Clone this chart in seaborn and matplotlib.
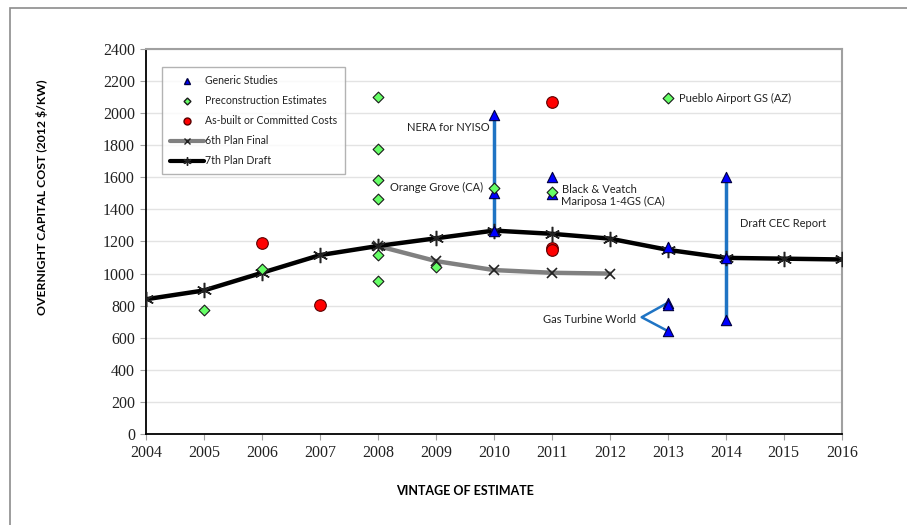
import pandas as pd
import matplotlib
matplotlib.use("Agg")
import matplotlib.pyplot as plt
import seaborn as sns
from matplotlib.lines import Line2D
from matplotlib.patches import Rectangle

# --- data ---
plan7_years = [2004, 2005, 2006, 2007, 2008, 2009, 2010, 2011, 2012, 2013, 2014, 2015, 2016]
plan7_cost = [840, 895, 1005, 1115, 1172, 1220, 1268, 1248, 1218, 1148, 1098, 1093, 1088]

plan6_years = [2008, 2009, 2010, 2011, 2012]
plan6_cost = [1172, 1078, 1022, 1005, 1000]

generic_years = [2010, 2010, 2010, 2011, 2011, 2013, 2013, 2013, 2013, 2014, 2014, 2014]
generic_cost = [1990, 1502, 1265, 1600, 1496, 1165, 818, 804, 642, 1600, 712, 1100]

precon_years = [2005, 2006, 2008, 2008, 2008, 2008, 2008, 2008, 2009, 2010, 2011, 2013]
precon_cost = [773, 1030, 2100, 1777, 1584, 1465, 1115, 954, 1041, 1534, 1510, 2095]

asbuilt_years = [2006, 2007, 2011, 2011, 2011]
asbuilt_cost = [1191, 804, 2070, 1160, 1147]

# range bars (blue vertical lines)
range_years = [2010, 2014]
range_low = [1265, 712]
range_high = [1990, 1600]

sns.set_theme(style="white")
plt.rcParams['font.family'] = ['Lato', 'DejaVu Sans']

fig = plt.figure(figsize=(9.07, 5.25), dpi=100)
ax = fig.add_axes([0.161, 0.1733, 0.767, 0.7334])

blue_line = '#1f74c4'

# range lines
ax.vlines(range_years, range_low, range_high, color=blue_line, lw=2.5, zorder=2)

# bracket for Gas Turbine World
ax.plot([2013, 2012.55, 2013], [818, 728, 642], color=blue_line, lw=1.8, zorder=2)

# plan lines
df6 = pd.DataFrame({'year': plan6_years, 'cost': plan6_cost})
df7 = pd.DataFrame({'year': plan7_years, 'cost': plan7_cost})
sns.lineplot(data=df6, x='year', y='cost', ax=ax, color='#808080', lw=3.2,
             marker='x', markersize=7, markeredgecolor='#222222', markeredgewidth=1.2, zorder=3)
sns.lineplot(data=df7, x='year', y='cost', ax=ax, color='black', lw=3.2,
             marker=(6, 2, 0), markersize=11, markeredgecolor='#222222', markeredgewidth=1.1,
             zorder=4)

# scatter series
dfp = pd.DataFrame({'year': precon_years, 'cost': precon_cost})
dfa = pd.DataFrame({'year': asbuilt_years, 'cost': asbuilt_cost})
dfg = pd.DataFrame({'year': generic_years, 'cost': generic_cost})
sns.scatterplot(data=dfa, x='year', y='cost', ax=ax, marker='o', s=70, color='#ff0000',
                edgecolor='#5a0000', linewidth=0.8, zorder=5)
sns.scatterplot(data=dfg, x='year', y='cost', ax=ax, marker='^', s=55, color='#0000ff',
                edgecolor='#000040', linewidth=0.8, zorder=6)
sns.scatterplot(data=dfp, x='year', y='cost', ax=ax, marker='D', s=30, color='#66ff66',
                edgecolor='#1a1a1a', linewidth=0.8, zorder=7)

# annotations
tk = dict(fontsize=8, color='#222222')
ax.text(2009.92, 1910, 'NERA for NYISO', ha='right', va='center', **tk)
ax.text(2009.82, 1536, 'Orange Grove (CA)', ha='right', va='center', **tk)
ax.text(2011.18, 1526, 'Black & Veatch', ha='left', va='center', **tk)
ax.text(2011.15, 1452, 'Mariposa 1-4GS (CA)', ha='left', va='center', **tk)
ax.text(2013.2, 2092, 'Pueblo Airport GS (AZ)', ha='left', va='center', **tk)
ax.text(2014.24, 1310, 'Draft CEC Report', ha='left', va='center', **tk)
ax.text(2012.45, 712, 'Gas Turbine World', ha='right', va='center', **tk)

# axes styling
ax.set_xlim(2004, 2016)
ax.set_ylim(0, 2400)
ax.set_xticks(range(2004, 2017))
ax.set_yticks(range(0, 2401, 200))
ax.yaxis.grid(True, color='#e3e3e3', lw=1)
ax.set_axisbelow(True)
for side in ['left', 'bottom']:
    ax.spines[side].set_color('black')
    ax.spines[side].set_linewidth(1.3)
for side in ['top', 'right']:
    ax.spines[side].set_color('#a0a0a0')
    ax.spines[side].set_linewidth(1.5)
ax.tick_params(axis='both', which='both', direction='out', length=4, width=0.8,
               color='#a0a0a0', labelsize=11.5, pad=4, bottom=True, left=True)
for lab in ax.get_xticklabels() + ax.get_yticklabels():
    lab.set_fontfamily(['Liberation Serif', 'DejaVu Serif'])
    lab.set_color('#222222')

ax.set_xlabel('VINTAGE OF ESTIMATE', fontsize=9, fontweight='bold', color='black')
ax.set_ylabel('OVERNIGHT CAPITAL COST (2012 $/KW)', fontsize=8.8, fontweight='bold',
              color='black')
ax.xaxis.set_label_coords(0.458, -0.132)
ax.yaxis.set_label_coords(-0.141, 0.615)

handles = [
    Line2D([], [], ls='none', marker='^', markersize=5, color='#0000ff', markeredgecolor='#000040'),
    Line2D([], [], ls='none', marker='D', markersize=3.5, color='#66ff66', markeredgecolor='#1a1a1a'),
    Line2D([], [], ls='none', marker='o', markersize=5, color='#ff0000', markeredgecolor='#5a0000'),
    Line2D([], [], color='#808080', lw=3, marker='x', markersize=5, markeredgecolor='#222222'),
    Line2D([], [], color='black', lw=3, marker=(6, 2, 0), markersize=6, markeredgecolor='#222222'),
]
labels = ['Generic Studies', 'Preconstruction Estimates', 'As-built or Committed Costs',
          '6th Plan Final', '7th Plan Draft']
leg = ax.legend(handles, labels, loc='upper left', bbox_to_anchor=(0.023, 0.952),
                fontsize=7.6, frameon=True, fancybox=False, handlelength=3.2,
                handletextpad=0.1, labelspacing=0.85, borderpad=0.75, borderaxespad=0)
leg.get_frame().set_edgecolor('#a0a0a0')
leg.get_frame().set_linewidth(1.0)
for t in leg.get_texts():
    t.set_color('#222222')

# outer frame of the chart area
fig.add_artist(Rectangle((0.011, -0.05), 1.2, 1.035, transform=fig.transFigure,
                         fill=False, edgecolor='#8c8c8c', lw=1.2))

fig.savefig('out.png', dpi=100, facecolor='white')
